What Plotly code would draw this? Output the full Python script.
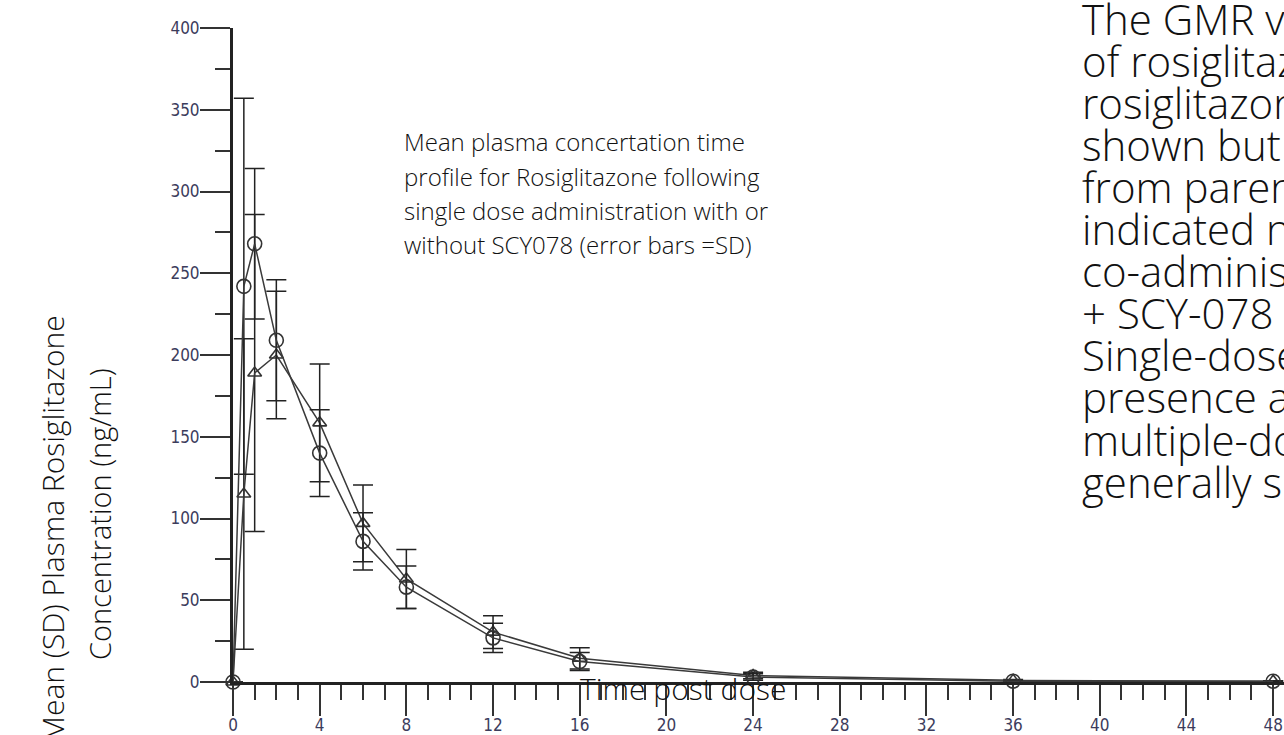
import plotly.graph_objects as go

# ---- data ----
time_h = [0, 0.5, 1, 2, 4, 6, 8, 12, 16, 24, 36, 48]
circle_mean = [0, 242, 268, 209, 140, 86, 58, 27, 12.5, 3, 0.5, 0.5]
circle_sd = [0, 115, 46, 37, 26.5, 17.5, 13, 9, 5.5, 2, 0.3, 0.3]
triangle_mean = [0, 115, 189, 200, 158.5, 97, 63, 30.5, 14.5, 4, 1, 0.5]
triangle_sd = [0, 95, 97, 39, 36, 23.5, 18, 10, 6.5, 2, 0.5, 0.3]
x_tick_vals = [0, 4, 8, 12, 16, 20, 24, 28, 32, 36, 40, 44, 48]
y_tick_vals = [0, 50, 100, 150, 200, 250, 300, 350, 400]

y_title_lines = ["Mean (SD) Plasma Rosiglitazone", "Concentration (ng/mL)"]
x_title = "Time post dose"
caption_lines = [
    "Mean plasma concertation time",
    "profile for Rosiglitazone following",
    "single dose administration with or",
    "without SCY078 (error bars =SD)",
]
side_lines = [
    "The GMR values",
    "of rosiglitazone",
    "rosiglitazone",
    "shown but not",
    "from parent",
    "indicated no",
    "co-administration",
    "+ SCY-078 was",
    "Single-dose",
    "presence and",
    "multiple-dose",
    "generally similar",
]

# ---- layout geometry ----
W, H = 1284, 735
L, R, T, B = 233, 0, 28, 53
PW, PH = W - L - R, H - T - B


def px(xp):
    return (xp - L) / PW


def py(yp):
    return (H - B - yp) / PH


INK = "#333333"
TICKFONT = dict(family="Liberation Sans Narrow, DejaVu Sans Condensed, Arial Narrow, sans-serif",
                size=17, color="#3c3c5c")
TEXTFONT = "Open Sans, Noto Sans, sans-serif"

fig = go.Figure()
for mean, sd, sym, size in [
    (triangle_mean, triangle_sd, "triangle-up-open", 12),
    (circle_mean, circle_sd, "circle-open", 14),
]:
    fig.add_trace(go.Scatter(
        x=time_h, y=mean, mode="lines+markers",
        line=dict(color="#3a3a3a", width=1.5),
        marker=dict(symbol=sym, size=size, color=INK, line=dict(width=1.6, color=INK)),
        error_y=dict(type="data", array=sd, visible=True, color="#222222",
                     thickness=1.5, width=10),
        cliponaxis=False, showlegend=False, hoverinfo="x+y",
    ))

annotations = []
# y-axis title (two rotated lines)
annotations.append(dict(text=y_title_lines[0], x=px(52), y=py(529), xref="paper", yref="paper",
                        textangle=-90, showarrow=False, xanchor="center", yanchor="middle",
                        font=dict(family=TEXTFONT, size=30, color="#111111", weight=300)))
annotations.append(dict(text=y_title_lines[1], x=px(99), y=py(514), xref="paper", yref="paper",
                        textangle=-90, showarrow=False, xanchor="center", yanchor="middle",
                        font=dict(family=TEXTFONT, size=29, color="#111111", weight=300)))
# x-axis title
annotations.append(dict(text=x_title, x=px(683), y=py(689), xref="paper", yref="paper",
                        showarrow=False, xanchor="center", yanchor="middle",
                        font=dict(family=TEXTFONT, size=30, color="#111111", weight=300)))
# caption in the plot
for i, line in enumerate(caption_lines):
    annotations.append(dict(text=line, x=px(402), y=py(142 + 34.3 * i), xref="paper", yref="paper",
                            showarrow=False, xanchor="left", yanchor="middle",
                            font=dict(family=TEXTFONT, size=24, color="#111111", weight=300)))
# side paragraph (runs off the right edge, as in the reference)
for i, line in enumerate(side_lines):
    annotations.append(dict(text=line, x=px(1080), y=py(18 + 42.1 * i), xref="paper", yref="paper",
                            showarrow=False, xanchor="left", yanchor="middle",
                            font=dict(family=TEXTFONT, size=42, color="#111111", weight=300)))

fig.update_layout(
    width=W, height=H,
    margin=dict(l=L, r=R, t=T, b=B, pad=0, autoexpand=False),
    paper_bgcolor="white", plot_bgcolor="white",
    annotations=annotations,
    xaxis=dict(
        range=[0, 48.5], tickvals=x_tick_vals, ticks="outside", ticklen=31, tickwidth=2,
        tickcolor=INK, showline=True, linewidth=3, linecolor="#222222", automargin=False,
        showgrid=False, zeroline=False, tickfont=TICKFONT, ticklabelstandoff=-5,
        minor=dict(dtick=1, tick0=0, ticks="outside", ticklen=15, tickwidth=2, tickcolor=INK),
    ),
    yaxis=dict(
        range=[0, 400], tickvals=y_tick_vals, ticks="outside", ticklen=30, tickwidth=2,
        tickcolor=INK, showline=True, linewidth=3, linecolor="#222222", automargin=False,
        showgrid=False, zeroline=False, tickfont=TICKFONT, ticklabelstandoff=-3,
        minor=dict(dtick=25, tick0=0, ticks="outside", ticklen=15, tickwidth=2, tickcolor=INK),
    ),
)

fig.write_html("out.html", config={"displayModeBar": False},
               post_script="document.body.style.margin='0';document.body.style.overflow='hidden';")
